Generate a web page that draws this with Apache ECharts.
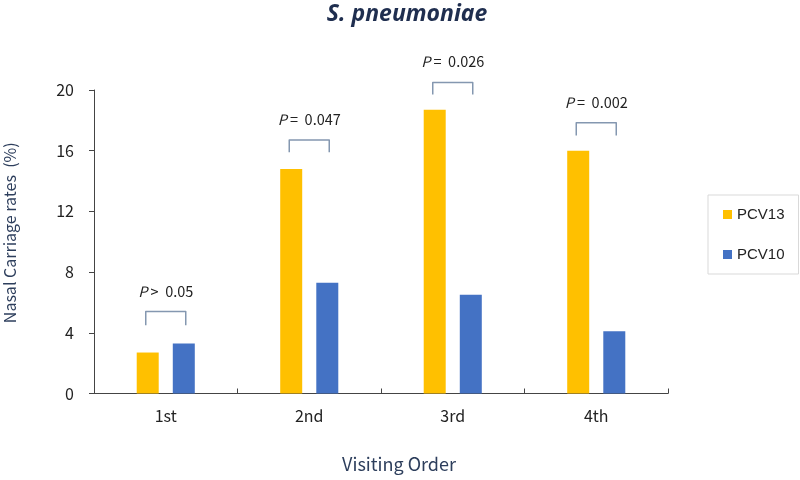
<!DOCTYPE html>
<html>
<head>
<meta charset="utf-8">
<script src="https://cdn.jsdelivr.net/npm/echarts@6/dist/echarts.min.js"></script>
<style>html,body{margin:0;padding:0;background:#fff}#c{width:800px;height:480px}</style>
</head>
<body>
<div id="c"></div>
<script>
const categories = ['1st', '2nd', '3rd', '4th'];
const pcv13 = [2.7, 14.8, 18.7, 16.0];
const pcv10 = [3.3, 7.3, 6.5, 4.1];
const bracketTop = [5.4, 16.7, 20.5, 17.85];
const bracketLeg = [4.5, 15.9, 19.7, 17.0];
const pSign = ['>', '=', '=', '='];
const pValues = ['0.05', '0.047', '0.026', '0.002'];
const yTicks = [0, 4, 8, 12, 16, 20];

const chart = echarts.init(document.getElementById('c'));
const axisFont = '"Noto Sans CJK KR", "Noto Sans", sans-serif';

const bracketData = categories.map((c, i) => [i, bracketTop[i], bracketLeg[i], pSign[i], pValues[i]]);

chart.setOption({
  animation: false,
  title: {
    text: 'S. pneumoniae',
    left: 402, top: -2, textAlign: 'center',
    textStyle: { fontFamily: '"Noto Sans", sans-serif', fontStyle: 'italic', fontWeight: 'bold', fontSize: 23, color: '#1f2e4f' }
  },
  legend: {
    orient: 'vertical',
    left: 708, top: 195,
    padding: [12, 14, 12, 15],
    borderColor: '#d9d9d9', borderWidth: 1,
    itemWidth: 9, itemHeight: 9, itemGap: 25,
    icon: 'rect',
    textStyle: { fontFamily: '"Liberation Sans", Arial, sans-serif', fontSize: 15, color: '#222' },
    data: ['PCV13', 'PCV10']
  },
  grid: { left: 94, right: 132, top: 90, bottom: 86.5, outerBoundsMode: 'none', containLabel: false },
  xAxis: {
    type: 'category',
    data: categories,
    name: 'Visiting Order',
    nameLocation: 'middle',
    nameGap: 62,
    nameTextStyle: { fontFamily: axisFont, fontSize: 18, color: '#2d3e5c', padding: [0, 0, 0, 36] },
    axisLine: { lineStyle: { color: '#444', width: 1 } },
    axisTick: { show: true, inside: true, length: 5, alignWithLabel: false, lineStyle: { color: '#444' } },
    axisLabel: { fontFamily: axisFont, fontSize: 16, color: '#222', margin: 14 }
  },
  yAxis: {
    type: 'value',
    min: yTicks[0], max: yTicks[yTicks.length - 1], interval: yTicks[1] - yTicks[0],
    name: 'Nasal Carriage rates  (%)',
    nameLocation: 'middle',
    nameGap: 76,
    nameTextStyle: { fontFamily: axisFont, fontSize: 16, color: '#2d3e5c', padding: [0, 0, 0, 18] },
    axisLine: { show: true, lineStyle: { color: '#444', width: 1 } },
    axisTick: { show: true, length: 5, lineStyle: { color: '#444' } },
    splitLine: { show: false },
    axisLabel: { fontFamily: axisFont, fontSize: 16, color: '#222', margin: 20 }
  },
  series: [
    { name: 'PCV13', type: 'bar', data: pcv13, barWidth: 22, barGap: '64%', itemStyle: { color: '#FFC000' } },
    { name: 'PCV10', type: 'bar', data: pcv10, barWidth: 22, itemStyle: { color: '#4472C4' } },
    {
      type: 'custom',
      clip: false,
      silent: true,
      data: bracketData,
      encode: { x: 0, y: 1 },
      renderItem: function (params, api) {
        const top = api.coord([api.value(0), api.value(1)]);
        const leg = api.coord([api.value(0), api.value(2)]);
        const half = 20;
        const sign = bracketData[params.dataIndex][3];
        const val = bracketData[params.dataIndex][4];
        return {
          type: 'group',
          children: [
            {
              type: 'polyline',
              shape: { points: [[top[0] - half, leg[1]], [top[0] - half, top[1]], [top[0] + half, top[1]], [top[0] + half, leg[1]]] },
              style: { stroke: '#8497b0', lineWidth: 1.5, fill: null, lineJoin: 'round' }
            },
            {
              type: 'text',
              x: top[0], y: top[1] - 20.5,
              style: {
                text: '{i|P} ' + sign + '  ' + val,
                align: 'center', verticalAlign: 'middle',
                font: '14.5px ' + axisFont,
                fill: '#222',
                rich: { i: { fontStyle: 'italic', fontSize: 14.5, fontFamily: axisFont, fill: '#222' } }
              }
            }
          ]
        };
      }
    }
  ]
});
</script>
</body>
</html>
